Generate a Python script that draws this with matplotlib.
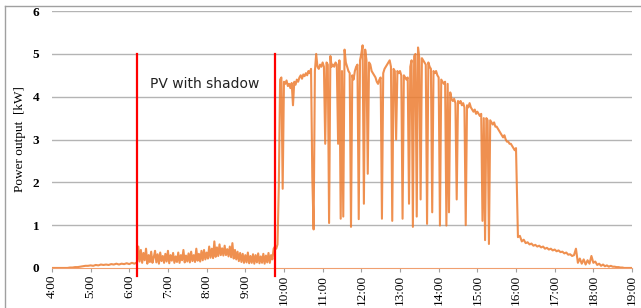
import numpy as np
import matplotlib.pyplot as plt
from matplotlib.lines import Line2D

# pv output [kW]
# 4:00 - 6:12, every 4 min
early_kw = [0, 0, 0, 0, 0, 0, 0.0, 0.01, 0.01, 0.02,
            0.02, 0.03, 0.04, 0.05, 0.05, 0.06, 0.05, 0.07, 0.06, 0.08,
            0.07, 0.08, 0.07, 0.09, 0.08, 0.1, 0.08, 0.1, 0.09, 0.11,
            0.09, 0.12, 0.1, 0.13]

# 6:14 - 9:46, every 2 min (shadow on the panel)
shadow_kw = [0.5, 0.15, 0.42, 0.12, 0.35, 0.18, 0.45, 0.1, 0.3, 0.14,
             0.38, 0.12, 0.25, 0.4, 0.13, 0.32, 0.1, 0.36, 0.16, 0.28,
             0.12, 0.33, 0.15, 0.4, 0.11, 0.3, 0.17, 0.35, 0.12, 0.27,
             0.14, 0.36, 0.12, 0.3, 0.18, 0.42, 0.13, 0.29, 0.15, 0.34,
             0.13, 0.38, 0.16, 0.3, 0.14, 0.45, 0.17, 0.33, 0.15, 0.4,
             0.18, 0.42, 0.2, 0.36, 0.22, 0.5, 0.24, 0.45, 0.23, 0.62,
             0.26, 0.48, 0.28, 0.55, 0.3, 0.46, 0.29, 0.52, 0.3, 0.44,
             0.27, 0.5, 0.25, 0.58, 0.22, 0.42, 0.2, 0.38, 0.16, 0.35,
             0.14, 0.33, 0.12, 0.3, 0.13, 0.36, 0.11, 0.28, 0.12, 0.32,
             0.1, 0.3, 0.13, 0.34, 0.11, 0.27, 0.12, 0.33, 0.1, 0.29,
             0.13, 0.35, 0.12, 0.3, 0.2, 0.45, 0.5]

# 9:48 - 16:00, every 2 min
sunny_kw = [0.45, 0.55, 1.9, 4.4, 4.45, 1.85, 4.35, 4.3, 4.38, 4.25,
            4.3, 4.2, 4.32, 3.8, 4.35, 4.28, 4.4, 4.35, 4.45, 4.5,
            4.42, 4.52, 4.48, 4.55, 4.5, 4.6, 4.55, 4.65, 2.1, 0.9,
            4.6, 5.0, 4.7, 4.65, 4.75, 4.7, 4.8, 4.7, 2.9, 4.8,
            4.75, 1.05, 4.95, 4.7, 4.75, 4.7, 4.8, 4.75, 2.9, 4.85,
            1.15, 4.6, 1.2, 5.1, 4.8, 4.7, 4.6, 4.55, 0.96, 4.5,
            4.4, 4.6, 4.7, 4.75, 1.14, 4.85, 5.0, 5.2, 1.5, 5.1,
            4.85, 2.2, 4.8, 4.75, 4.6, 4.55, 4.5, 4.45, 4.35, 4.3,
            4.4, 4.45, 1.15, 4.55, 4.65, 4.7, 4.75, 4.8, 4.85, 4.7,
            1.1, 4.65, 4.6, 3.0, 4.6, 4.55, 4.6, 4.5, 1.15, 4.5,
            4.45, 4.4, 4.45, 1.5, 4.7, 4.85, 0.96, 4.95, 5.0, 1.2,
            5.15, 4.9, 1.6, 4.9, 4.85, 4.8, 4.75, 1.03, 4.8, 4.7,
            4.65, 1.3, 4.6, 4.55, 4.6, 4.5, 4.45, 0.99, 4.4, 4.35,
            4.3, 4.35, 0.99, 4.3, 1.3, 4.1, 3.95, 3.9, 3.95, 3.85,
            1.6, 3.9, 3.85, 3.9, 3.8, 3.85, 3.75, 1.0, 3.8, 3.75,
            3.85, 3.75, 3.7, 3.65, 3.7, 3.6, 3.65, 3.6, 3.55, 3.6,
            1.1, 3.5, 0.65, 3.5, 3.45, 0.56, 3.45, 3.4, 3.35, 3.4,
            3.3, 3.3, 3.25, 3.2, 3.15, 3.1, 3.05, 3.1, 3.0, 2.95,
            2.95, 2.9, 2.9, 2.85, 2.8, 2.75, 2.8]

# 16:03 - 19:00, every 3 min
evening_kw = [0.72, 0.75, 0.62, 0.66, 0.58, 0.6, 0.55, 0.57, 0.52, 0.54,
              0.5, 0.52, 0.48, 0.5, 0.45, 0.47, 0.43, 0.45, 0.41, 0.43,
              0.39, 0.41, 0.37, 0.38, 0.34, 0.36, 0.31, 0.32, 0.28, 0.3,
              0.45, 0.12, 0.22, 0.1, 0.2, 0.08, 0.18, 0.1, 0.28, 0.12,
              0.15, 0.07, 0.1, 0.05, 0.08, 0.04, 0.06, 0.03, 0.05, 0.03,
              0.03, 0.02, 0.02, 0.01, 0.01, 0.0, 0.0, 0.0, 0.0, 0.0]

shadow_start = 6 + 12 / 60
shadow_end = 9 + 46 / 60
hour_labels = [f"{h}:00" for h in range(4, 20)]
label_text = "PV with shadow"

# time axes in hours for each block
t_early = 4 + np.arange(len(early_kw)) * 4 / 60
t_shadow = 6 + 14 / 60 + np.arange(len(shadow_kw)) * 2 / 60
t_sunny = 9 + 48 / 60 + np.arange(len(sunny_kw)) * 2 / 60
t_evening = 16 + 3 / 60 + np.arange(len(evening_kw)) * 3 / 60

t = np.concatenate([t_early, t_shadow, t_sunny, t_evening])
kw = np.concatenate([early_kw, shadow_kw, sunny_kw, evening_kw])

fig = plt.figure(figsize=(6.41, 3.08), dpi=100)
ax = fig.add_axes([0.081, 0.130, 0.905, 0.834])

ax.plot(t, kw, color='#ED7D31', lw=1.5, alpha=0.85, zorder=3)

ax.set_xlim(4, 19)
ax.set_ylim(0, 6)
ax.set_yticks(range(0, 7))
ax.set_xticks(range(4, 20))
ax.set_xticklabels(hour_labels, rotation=90, fontfamily='Liberation Serif', fontsize=9.5)
for lab in ax.get_yticklabels():
    lab.set_fontfamily('Liberation Serif')
    lab.set_fontsize(9.5)
    lab.set_fontweight('bold')
ax.tick_params(axis='y', length=0, pad=9)
ax.tick_params(axis='x', length=3, color='#a0a0a0', pad=2)

for y in range(1, 7):
    ax.axhline(y, color='#b4b4b4', lw=1.0, zorder=1)

for s in ['top', 'right', 'left']:
    ax.spines[s].set_visible(False)
ax.spines['bottom'].set_color('#f0a070')

ax.set_ylabel('Power output  [kW]', fontfamily='Liberation Serif', fontsize=9.5, labelpad=5)

# red markers for the shadow period
for x in [shadow_start, shadow_end]:
    ax.plot([x, x], [-0.18, 5.0], color='#ff0000', lw=1.6, clip_on=False, zorder=4)

ax.text(7.95, 4.3, label_text, fontsize=10, fontfamily='DejaVu Sans',
        ha='center', va='center', color='#222222')

# outer frame (top and left edge only)
fig.add_artist(Line2D([5 / 641, 1], [1 - 6 / 308] * 2, color='#a0a0a0', lw=1.0))
fig.add_artist(Line2D([5 / 641] * 2, [0, 1 - 6 / 308], color='#a0a0a0', lw=1.0))

fig.savefig('out.png', dpi=100)
